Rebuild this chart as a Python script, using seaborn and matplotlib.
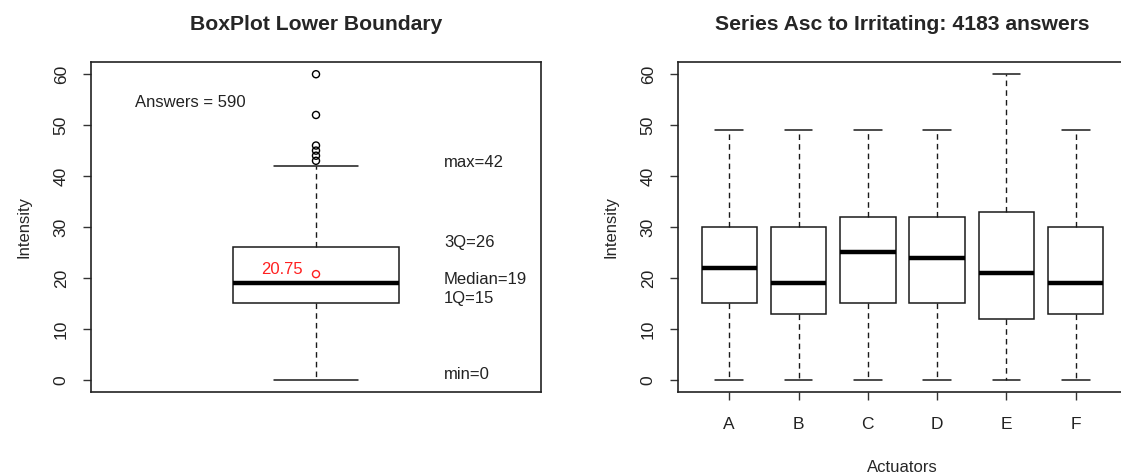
import numpy as np
import pandas as pd
import matplotlib
matplotlib.use("Agg")
import matplotlib.pyplot as plt
import seaborn as sns

# ---- data ----
left_summary = [0, 15, 19, 26, 42]          # min, Q1, median, Q3, upper whisker
left_outliers = [43, 44, 45, 46, 52, 60]
left_mean = 20.75
left_answers = 590
left_labels = ["min=0", "1Q=15", "Median=19", "3Q=26", "max=42"]
left_label_y = [1.0, 15.9, 19.6, 26.9, 42.7]

actuators = ["A", "B", "C", "D", "E", "F"]
act_min = [0, 0, 0, 0, 0, 0]
act_q1 = [15, 13, 15, 15, 12, 13]
act_median = [22, 19, 25, 24, 21, 19]
act_q3 = [30, 30, 32, 32, 33, 30]
act_max = [49, 49, 49, 49, 60, 49]
total_answers = 4183

sns.set_theme(style="ticks")
plt.rcParams["font.family"] = ["Liberation Sans", "DejaVu Sans"]
plt.rcParams["font.size"] = 12

W, H = 1121, 476
fig = plt.figure(figsize=(W / 100, H / 100), dpi=100)
fig.patch.set_facecolor("white")

ax1 = fig.add_axes([91 / W, 1 - 392 / H, 450 / W, 330 / H])
ax2 = fig.add_axes([678 / W, 1 - 392 / H, 449 / W, 330 / H])

edge = "#1a1a1a"
common = dict(
    color="white", linecolor=edge, linewidth=1.1, showfliers=False,
    medianprops=dict(color="black", linewidth=3.2),
    whiskerprops=dict(color=edge, linestyle=(0, (4, 3)), linewidth=1.0),
    capprops=dict(color=edge, linewidth=1.1),
    boxprops=dict(edgecolor=edge, facecolor="white"),
)

# ---- left panel ----
df_left = pd.DataFrame({"grp": ["x"] * len(left_summary), "val": left_summary})
sns.boxplot(data=df_left, x="grp", y="val", ax=ax1, width=0.4, **common)
for ln in ax1.lines:
    xd = np.asarray(ln.get_xdata(), dtype=float)
    yd = np.asarray(ln.get_ydata(), dtype=float)
    if len(xd) == 2 and yd[0] == yd[1] and yd[0] in (left_summary[0], left_summary[-1]):
        c = xd.mean()
        ln.set_xdata([c - 0.1, c + 0.1])
ax1.scatter([0] * len(left_outliers), left_outliers, s=26, facecolors="none",
            edgecolors="black", linewidths=1.0, zorder=5)
ax1.scatter([0], [left_mean], s=26, facecolors="none", edgecolors="#ff2020",
            linewidths=1.0, zorder=5)
ax1.text(-0.031, 21.6, f"{left_mean:.2f}", color="#ff2020", ha="right",
         va="center", fontsize=12)
ax1.text(-0.434, 54.4, f"Answers = {left_answers}", ha="left", va="center",
         fontsize=12, color="#222222")
for lab, yy in zip(left_labels, left_label_y):
    ax1.text(0.307, yy, lab, ha="left", va="center", fontsize=12, color="#222222")
ax1.set_xlim(-0.54, 0.54)
ax1.set_ylim(-2.4, 62.4)
ax1.set_xticks([])
ax1.set_xlabel("")
ax1.set_ylabel("Intensity", fontsize=12, labelpad=16)
ax1.set_title("BoxPlot Lower Boundary", fontsize=15.2, fontweight="bold", pad=23)

# ---- right panel ----
rows = []
for a, mn, q1, md, q3, mx in zip(actuators, act_min, act_q1, act_median, act_q3, act_max):
    for v in (mn, q1, md, q3, mx):
        rows.append({"Actuators": a, "Intensity": v})
df_right = pd.DataFrame(rows)
sns.boxplot(data=df_right, x="Actuators", y="Intensity", order=actuators,
            ax=ax2, width=0.8, whis=3.0, **common)
caps_vals = set(act_min) | set(act_max)
for ln in ax2.lines:
    xd = np.asarray(ln.get_xdata(), dtype=float)
    yd = np.asarray(ln.get_ydata(), dtype=float)
    if len(xd) == 2 and yd[0] == yd[1] and xd[0] != xd[1] and yd[0] in caps_vals:
        c = xd.mean()
        width = abs(xd[1] - xd[0])
        if width < 0.79:
            ln.set_xdata([c - 0.2, c + 0.2])
ax2.set_xlim(-0.74, 5.74)
ax2.set_ylim(-2.4, 62.4)
ax2.set_ylabel("Intensity", fontsize=12, labelpad=16)
ax2.set_xlabel("Actuators", fontsize=12, labelpad=20)
ax2.set_title(f"Series Asc to Irritating: {total_answers} answers", fontsize=15.2,
              fontweight="bold", pad=23)

for ax in (ax1, ax2):
    ax.set_yticks([0, 10, 20, 30, 40, 50, 60])
    ax.tick_params(axis="y", length=6, width=1, color="#333333", pad=10,
                   labelsize=12.5, labelrotation=90, labelcolor="#222222")
    for t in ax.get_yticklabels():
        t.set_va("center")
    ax.tick_params(axis="x", length=6, width=1, color="#333333", pad=12,
                   labelsize=12.5, labelcolor="#222222")
    for s in ax.spines.values():
        s.set_visible(True)
        s.set_color("#222222")
        s.set_linewidth(1.2)
    ax.set_facecolor("white")
    ax.grid(False)

fig.savefig("out.png", dpi=100, facecolor="white")
